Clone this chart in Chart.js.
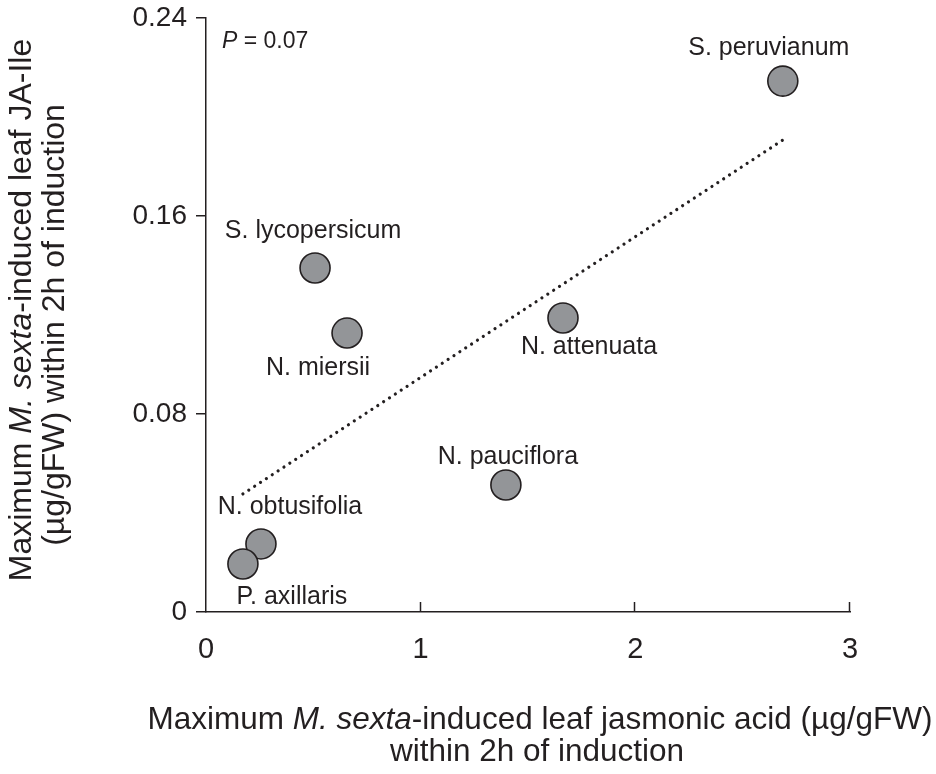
<!DOCTYPE html>
<html>
<head>
<meta charset="utf-8">
<script src="https://cdn.jsdelivr.net/npm/chart.js@4"></script>
<style>
  html, body { margin: 0; padding: 0; background: #ffffff; }
  #wrap { width: 936px; height: 774px; position: relative; }
</style>
</head>
<body>
<div id="wrap"><canvas id="c"></canvas></div>
<script>
// ---- data ----
const species = ['S. peruvianum', 'S. lycopersicum', 'N. miersii', 'N. attenuata', 'N. pauciflora', 'N. obtusifolia', 'P. axillaris'];
const jaValues = [2.687, 0.508, 0.657, 1.663, 1.397, 0.256, 0.172];
const jaIleValues = [0.2145, 0.139, 0.1127, 0.1188, 0.0513, 0.0275, 0.0194];
const trendX = [0.172, 2.687];
const trendY = [0.0477, 0.1907];
const xTicks = [0, 1, 2, 3];
const yTicks = [0, 0.08, 0.16, 0.24];
const yTickLabels = ['0', '0.08', '0.16', '0.24'];
const pText = '0.07';

// ---- style (label offsets in px from each point) ----
const labelOffsets = [[-14, -33], [-2, -37], [-29, 35], [26, 29], [2, -28], [29, -37], [49, 33]];
const INK = '#231f20';
const FONT = '"Liberation Sans", Arial, Helvetica, sans-serif';

function richWidth(ctx, segs, size) {
  let w = 0;
  segs.forEach(s => { ctx.font = (s.i ? 'italic ' : '') + size + 'px ' + FONT; w += ctx.measureText(s.t).width; });
  return w;
}
function drawRich(ctx, segs, size, cx, cy) {
  const w = richWidth(ctx, segs, size);
  let x = cx - w / 2;
  ctx.textAlign = 'left';
  ctx.textBaseline = 'middle';
  segs.forEach(s => {
    ctx.font = (s.i ? 'italic ' : '') + size + 'px ' + FONT;
    ctx.fillText(s.t, x, cy);
    x += ctx.measureText(s.t).width;
  });
}

const decor = {
  id: 'decor',
  afterDatasetsDraw(chart) {
    const ctx = chart.ctx;
    const xs = chart.scales.x;
    const area = chart.chartArea;
    ctx.save();
    // inward x ticks
    ctx.strokeStyle = INK;
    ctx.lineWidth = 1.5;
    xTicks.forEach(v => {
      if (v === 0) return;
      const px = Math.round(xs.getPixelForValue(v)) - 0.5;
      ctx.beginPath();
      ctx.moveTo(px, area.bottom);
      ctx.lineTo(px, area.bottom - 10);
      ctx.stroke();
    });
    // point labels
    ctx.fillStyle = INK;
    ctx.font = '25px ' + FONT;
    ctx.textAlign = 'center';
    ctx.textBaseline = 'middle';
    const meta = chart.getDatasetMeta(1);
    meta.data.forEach((pt, i) => {
      ctx.fillText(species[i], pt.x + labelOffsets[i][0], pt.y + labelOffsets[i][1]);
    });
    // P value
    ctx.textAlign = 'left';
    ctx.font = 'italic 23px ' + FONT;
    const px0 = area.left + 16;
    ctx.fillText('P', px0, area.top + 24);
    const w = ctx.measureText('P').width;
    ctx.font = '23px ' + FONT;
    ctx.fillText(' = ' + pText, px0 + w, area.top + 24);
    // x title
    drawRich(ctx, [{t: 'Maximum '}, {t: 'M. sexta', i: true}, {t: '-induced leaf jasmonic acid (µg/gFW)'}], 31.5, 540, 720);
    drawRich(ctx, [{t: 'within 2h of induction'}], 31.5, 537, 752);
    // y title
    ctx.save();
    ctx.translate(22, 310);
    ctx.rotate(-Math.PI / 2);
    drawRich(ctx, [{t: 'Maximum '}, {t: 'M. sexta', i: true}, {t: '-induced leaf JA-Ile'}], 32, 0, 0);
    ctx.restore();
    ctx.save();
    ctx.translate(55, 325);
    ctx.rotate(-Math.PI / 2);
    drawRich(ctx, [{t: '(µg/gFW) within 2h of induction'}], 32, 0, 0);
    ctx.restore();
    ctx.restore();
  }
};

const points = jaValues.map((x, i) => ({x: x, y: jaIleValues[i]}));
const trend = trendX.map((x, i) => ({x: x, y: trendY[i]}));

new Chart(document.getElementById('c'), {
  type: 'scatter',
  data: {
    datasets: [
      {
        type: 'line',
        data: trend,
        borderColor: INK,
        borderWidth: 3.2,
        borderDash: [0.01, 7],
        borderCapStyle: 'round',
        pointRadius: 0,
        pointHoverRadius: 0,
        fill: false,
        order: 2
      },
      {
        data: points,
        backgroundColor: '#939598',
        borderColor: INK,
        borderWidth: 1.6,
        pointRadius: 15,
        pointHoverRadius: 15,
        order: 1
      }
    ]
  },
  options: {
    responsive: true,
    maintainAspectRatio: false,
    animation: false,
    events: [],
    layout: { padding: { left: 0, right: 86, top: 18, bottom: 0 } },
    plugins: { legend: { display: false }, tooltip: { enabled: false } },
    scales: {
      x: {
        type: 'linear',
        min: 0, max: 3,
        afterBuildTicks(s) { s.ticks = xTicks.map(v => ({value: v})); },
        afterFit(s) { s.height = 162; s.paddingLeft = 0; s.paddingRight = 0; },
        border: { display: true, color: INK, width: 1.5 },
        grid: { drawOnChartArea: false, drawTicks: false },
        ticks: { color: INK, padding: 21, font: { size: 29, family: FONT }, maxRotation: 0,
          callback: (v) => String(v) }
      },
      y: {
        type: 'linear',
        min: 0, max: 0.24,
        afterBuildTicks(s) { s.ticks = yTicks.map(v => ({value: v})); },
        afterFit(s) { s.width = 206; s.paddingTop = 0; s.paddingBottom = 0; },
        border: { display: true, color: INK, width: 1.5 },
        grid: { drawOnChartArea: false, drawTicks: true, tickLength: 10, color: INK, lineWidth: 1.5 },
        ticks: { color: INK, padding: 9, font: { size: 28, family: FONT },
          callback: (v, i) => yTickLabels[i] }
      }
    }
  },
  plugins: [decor]
});
</script>
</body>
</html>
